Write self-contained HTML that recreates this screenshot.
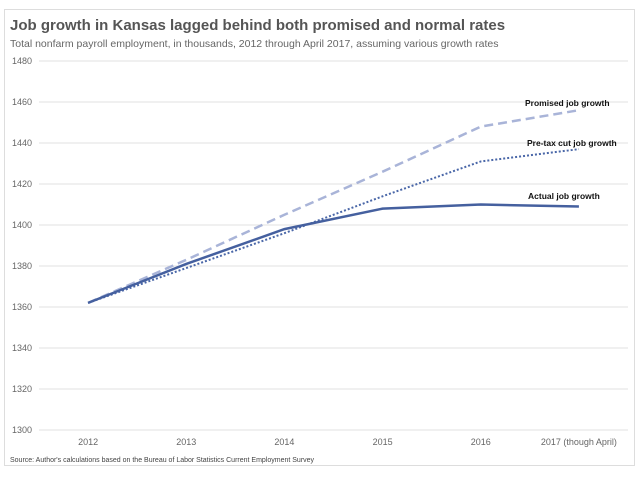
<!DOCTYPE html>
<html><head><meta charset="utf-8"><style>
body{margin:0;background:#fff;font-family:"Liberation Sans",sans-serif;}
svg text{font-family:"Liberation Sans",sans-serif;}
</style></head><body>
<svg width="640" height="474">
<rect x="4.5" y="9.5" width="630" height="456" fill="#fff" stroke="#ddd"/>
<text x="10" y="30" font-size="15" font-weight="bold" fill="#555">Job growth in Kansas lagged behind both promised and normal rates</text>
<text x="10" y="47" font-size="10.5" fill="#666">Total nonfarm payroll employment, in thousands, 2012 through April 2017, assuming various growth rates</text>
<g id="grid"></g><g id="xl"></g><g id="lines"></g>
<text x="10" y="462" font-size="7" fill="#444">Source: Author's calculations based on the Bureau of Labor Statistics Current Employment Survey</text>
</svg>
<script>
const categories=["2012","2013","2014","2015","2016","2017 (though April)"];
const yTicks=[1300,1320,1340,1360,1380,1400,1420,1440,1460,1480];
const actual=[1362,1381,1398,1408,1410,1409];
const promised=[1362,1383,1405,1426,1448,1456];
const pretax=[1362,1379,1396,1414,1431,1437];
const NS="http://www.w3.org/2000/svg";
const x0=39,x1=628,y0=430,y1=61;
const bw=(x1-x0)/categories.length;
const X=i=>x0+bw*(i+0.5);
const Y=v=>y0-(v-1300)/(1480-1300)*(y0-y1);
function mk(t,a,p){const e=document.createElementNS(NS,t);for(const k in a)e.setAttribute(k,a[k]);p.appendChild(e);return e;}
const g=document.getElementById('grid');
yTicks.forEach(v=>{
 const l=mk('line',{x1:x0,x2:x1,y1:Y(v),y2:Y(v),stroke:'#e2e2e2','stroke-width':1},g);
 
 
 const t=mk('text',{x:12,y:Y(v)+3,'font-size':9,fill:'#666'},g);t.textContent=v;
 
 
});
const xl=document.getElementById('xl');
categories.forEach((c,i)=>{
 const t=mk('text',{x:X(i),y:445,'font-size':9,fill:'#666','text-anchor':'middle'},xl);t.textContent=c;
 
 
});
const lg=document.getElementById('lines');
function series(d,color,dash,w,name,label,lx,ly){
 const p=mk('polyline',{points:d.map((v,i)=>X(i)+','+Y(v)).join(' '),fill:'none',stroke:color,'stroke-width':w,'stroke-dasharray':dash},lg);
 
 
 const t=mk('text',{x:lx,y:ly,'font-size':8.5,'font-weight':'bold',fill:'#111'},lg);t.textContent=label;
 
 
}
series(promised,'#a9b4d8','9,5',2.5,'promised','Promised job growth',525,106);
series(pretax,'#4a67a8','2,2',2,'pretax','Pre-tax cut job growth',527,146);
series(actual,'#45609f','',2.5,'actual','Actual job growth',528,199);
</script>
</body></html>
